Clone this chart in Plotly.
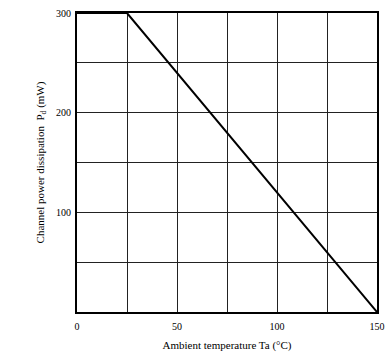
import plotly.graph_objects as go

# Derating curve: ambient temperature (°C) vs channel power dissipation (mW)
temperature = [0, 25, 150]
power = [300, 300, 0]

x_ticks = [0, 50, 100, 150]
x_tick_labels = ["0", "50", "100", "150"]
y_ticks = [100, 200, 300]
y_tick_labels = ["100", "200", "300"]

fig = go.Figure()
fig.add_trace(go.Scatter(
    x=temperature, y=power, mode="lines",
    line=dict(color="black", width=2), showlegend=False,
))

font = dict(family="Liberation Serif, Times New Roman, serif", size=10, color="black")

fig.update_layout(
    width=389, height=358,
    margin=dict(l=77, r=12, t=13, b=46, autoexpand=False),
    paper_bgcolor="white", plot_bgcolor="white",
    font=font,
)
fig.update_xaxes(
    range=[0, 150], automargin=False, ticklabeloverflow="allow",
    tickmode="array", tickvals=x_ticks, ticktext=x_tick_labels,
    showgrid=False, zeroline=False,
    showline=True, linecolor="black", linewidth=2, mirror=True,
    ticks="", ticklabelstandoff=4,
    title=dict(text="Ambient temperature Ta (°C)", font=dict(size=11), standoff=10),
)
fig.update_xaxes(minor=dict(tickvals=[25, 50, 75, 100, 125], showgrid=True,
                            gridcolor="#222", gridwidth=1.3))
fig.update_yaxes(
    range=[0, 300], automargin=False, ticklabeloverflow="allow",
    tickmode="array", tickvals=y_ticks, ticktext=y_tick_labels,
    showgrid=False, zeroline=False,
    showline=True, linecolor="black", linewidth=2, mirror=True,
    ticks="", ticklabelstandoff=2,
    title=dict(text="Channel power dissipation  P<sub>d</sub> (mW)", font=dict(size=11), standoff=9),
)
fig.update_yaxes(minor=dict(tickvals=[50, 100, 150, 200, 250], showgrid=True,
                            gridcolor="#222", gridwidth=1.3))

fig.write_html(
    "out.html",
    config={"displayModeBar": False},
    post_script="document.body.style.margin='0';document.body.style.overflow='hidden';",
)
